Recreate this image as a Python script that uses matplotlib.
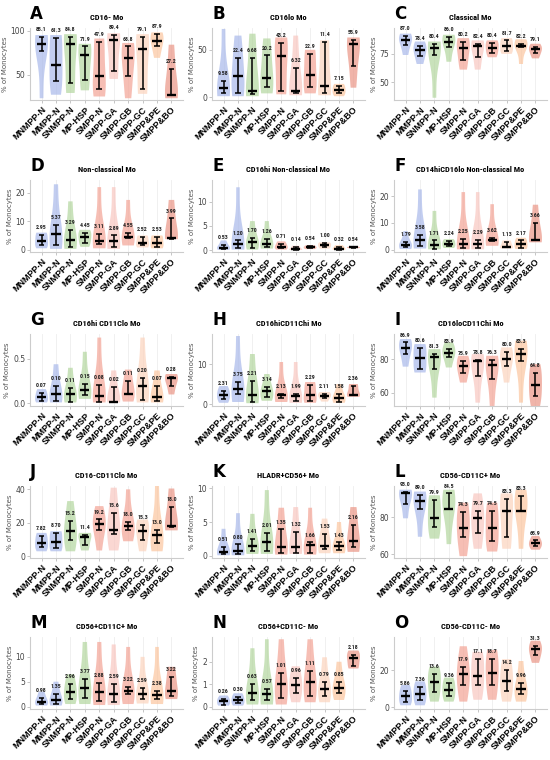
import matplotlib
matplotlib.use("Agg")
import matplotlib.pyplot as plt
import numpy as np

groups = ["MNMPP-N", "MMPP-N", "SNMPP-N", "MP-HSP", "SMPP-N",
          "SMPP-GA", "SMPP-GB", "SMPP-GC", "SMPP&PE", "SMPP&BO"]
colors = ["#a9b9ea", "#a9b9ea", "#b3d69e", "#b3d69e", "#f3a395",
          "#f8c6c0", "#f3a395", "#fcd3bd", "#fbc59e", "#ea9585"]

# ---------------- values ----------------
# med = median (label), lo/hi = error bar ends, vmin/vmax = violin extent
A_title = "CD16- Mo"
A_med = [85.1, 61.3, 84.8, 71.9, 47.9, 89.4, 68.8, 79.1, 87.9, 27.2]
A_lo = [77, 43, 40, 44, 34, 54, 48, 34, 82, 27]
A_hi = [93, 92, 93, 82, 87, 95, 82, 93, 96, 56]
A_min = [23, 27, 29, 32, 25, 45, 23, 28, 69, 23]
A_max = [95, 95, 96, 85, 91, 97, 86, 96, 98, 84]

B_title = "CD16lo Mo"
B_med = [9.58, 22.4, 6.68, 20.2, 43.2, 6.32, 22.9, 11.4, 7.15, 55.9]
B_lo = [4, 4, 3, 11, 6, 4, 11, 4, 4, 33]
B_hi = [17, 41, 41, 44, 57, 31, 46, 58, 11.5, 60]
B_min = [1, 1, 1, 4, 3, 2, 4, 2, 1, 10]
B_max = [72, 65, 67, 62, 63, 65, 50, 60, 14, 63]

C_title = "Classical Mo"
C_med = [87.0, 78.4, 80.4, 86.0, 80.2, 82.4, 80.4, 81.7, 82.2, 79.1]
C_lo = [83, 73.5, 74, 81, 70, 72, 76, 78, 81, 75.5]
C_hi = [91, 82, 84, 90, 86, 84, 85, 87, 84, 81]
C_min = [74, 66, 36, 68, 61, 61, 72, 75, 66, 71]
C_max = [93, 86, 86, 92, 89, 87, 87, 89, 88, 84]

D_title = "Non-classical Mo"
D_med = [2.95, 5.37, 3.29, 4.45, 3.11, 2.89, 4.55, 2.52, 2.53, 3.99]
D_lo = [1.5, 1.5, 1.0, 2.5, 2.0, 1.0, 4.0, 1.5, 1.0, 3.9]
D_hi = [5.3, 8.6, 7.0, 6.0, 5.5, 5.0, 6.0, 4.5, 4.5, 11.0]
D_min = [0.5, 0.3, 0.3, 1.0, 0.5, 0.3, 1.5, 0.8, 0.5, 3.7]
D_max = [6.0, 23.0, 17.0, 7.0, 22.0, 22.0, 17.5, 5.0, 5.0, 17.5]

E_title = "CD16hi Non-classical Mo"
E_med = [0.53, 1.20, 1.70, 1.26, 0.71, 0.14, 0.54, 1.00, 0.32, 0.54]
E_lo = [0.2, 0.5, 0.5, 0.7, 0.4, 0.05, 0.4, 0.6, 0.1, 0.45]
E_hi = [1.1, 2.0, 2.6, 2.3, 1.3, 0.6, 0.8, 1.4, 0.7, 0.65]
E_min = [0.05, 0.1, 0.1, 0.3, 0.1, 0.02, 0.2, 0.3, 0.05, 0.4]
E_max = [2.0, 13.0, 6.0, 6.0, 1.8, 0.9, 1.0, 1.6, 1.0, 0.7]

F_title = "CD14hiCD16lo Non-classical Mo"
F_med = [1.79, 3.58, 1.71, 2.24, 2.25, 2.29, 3.62, 1.13, 2.17, 3.66]
F_lo = [1.0, 1.5, 0.5, 1.3, 0.8, 0.8, 3.2, 1.0, 0.8, 3.6]
F_hi = [3.0, 5.5, 3.5, 3.3, 4.0, 3.8, 4.5, 2.8, 3.5, 10.0]
F_min = [0.3, 0.5, 0.2, 0.7, 0.2, 0.2, 1.5, 0.5, 0.3, 2.8]
F_max = [7.0, 22.5, 14.5, 4.0, 21.5, 21.5, 17.0, 3.5, 4.5, 16.8]

G_title = "CD16hi CD11Clo Mo"
G_med = [0.07, 0.10, 0.11, 0.15, 0.08, 0.02, 0.11, 0.20, 0.07, 0.28]
G_lo = [0.03, 0.03, 0.02, 0.09, 0.02, 0.02, 0.10, 0.04, 0.03, 0.20]
G_hi = [0.12, 0.20, 0.17, 0.22, 0.21, 0.18, 0.25, 0.29, 0.20, 0.30]
G_min = [0.01, 0.01, 0.01, 0.05, 0.01, 0.01, 0.02, 0.01, 0.01, 0.10]
G_max = [0.16, 0.44, 0.40, 0.58, 0.74, 0.37, 0.38, 0.74, 0.37, 0.33]

H_title = "CD16hiCD11Chi Mo"
H_med = [2.31, 3.75, 2.21, 3.14, 2.13, 1.99, 2.29, 2.11, 1.58, 2.36]
H_lo = [1.3, 2.5, 0.5, 1.8, 1.5, 0.8, 0.8, 1.5, 0.6, 2.3]
H_hi = [3.3, 5.5, 5.8, 4.2, 2.6, 2.5, 4.8, 2.5, 2.5, 4.5]
H_min = [0.3, 0.5, 0.2, 0.8, 0.5, 0.3, 0.3, 0.6, 0.3, 1.8]
H_max = [4.5, 17.0, 12.5, 7.5, 10.5, 10.5, 5.5, 3.0, 5.0, 5.0]

I_title = "CD16loCD11Chi Mo"
I_med = [86.9, 80.6, 81.3, 83.9, 75.9, 78.8, 76.3, 80.0, 83.3, 64.8]
I_lo = [83, 74, 74, 81.5, 72, 70, 68, 76, 79, 58]
I_hi = [90, 86.5, 83, 86, 79, 79.5, 79.5, 84.5, 86, 72]
I_min = [75.5, 72, 57, 75, 66, 54, 52, 66, 54, 52]
I_max = [92, 89, 86, 90, 82, 83, 82, 87, 91, 77]

J_title = "CD16-CD11Clo Mo"
J_med = [7.82, 8.70, 15.2, 11.4, 19.2, 15.6, 18.0, 15.3, 13.0, 18.0]
J_lo = [5.5, 5, 9.5, 6.5, 15.5, 13.5, 16, 9.5, 8, 17.5]
J_hi = [12, 14, 21, 13, 22, 26, 20.5, 19, 16, 29.5]
J_min = [3, 3, 3, 3.5, 3.5, 3.5, 9, 3, 3, 15.5]
J_max = [14, 15, 33, 14, 30, 41, 40, 22, 42, 40.5]

K_title = "HLADR+CD56+ Mo"
K_med = [0.51, 0.80, 1.41, 2.01, 1.35, 1.32, 1.66, 1.53, 1.43, 2.16]
K_lo = [0.3, 0.3, 0.7, 0.8, 0.5, 0.5, 0.5, 1.0, 0.9, 1.3]
K_hi = [1.3, 1.7, 2.5, 3.4, 3.9, 3.5, 2.0, 3.2, 2.0, 4.6]
K_min = [0.1, 0.1, 0.3, 0.3, 0.2, 0.3, 0.2, 0.4, 0.4, 0.6]
K_max = [4.0, 6.3, 6.2, 9.7, 7.1, 7.2, 7.1, 5.5, 5.0, 7.2]

L_title = "CD56-CD11C+ Mo"
L_med = [93.0, 89.0, 79.9, 84.5, 74.3, 79.7, 74.5, 83.3, 83.3, 65.9]
L_lo = [87.5, 84.5, 75, 84.5, 69.5, 71.5, 67, 69.5, 83.3, 64.5]
L_hi = [93.7, 92, 89.5, 93, 83, 83.5, 83.5, 90, 91.5, 67.5]
L_min = [79.5, 69.5, 68.5, 65.5, 59, 63, 61.5, 63, 63, 62.5]
L_max = [95, 94, 92, 95, 88, 93, 88, 93, 95, 70]

M_title = "CD56+CD11C+ Mo"
M_med = [0.98, 1.35, 2.96, 3.77, 2.88, 2.59, 3.22, 2.59, 2.38, 3.22]
M_lo = [0.5, 0.6, 1.5, 1.8, 1.2, 1.0, 2.5, 1.5, 1.5, 2.2]
M_hi = [1.8, 2.5, 4.5, 5.5, 4.8, 4.5, 4.0, 3.8, 3.2, 6.0]
M_min = [0.2, 0.2, 0.5, 0.5, 0.3, 0.3, 0.5, 0.6, 0.5, 1.5]
M_max = [3.0, 5.0, 6.5, 13.0, 13.0, 12.5, 12.0, 10.0, 12.0, 8.0]

N_title = "CD56+CD11C- Mo"
N_med = [0.26, 0.30, 0.63, 0.57, 1.01, 0.96, 1.11, 0.79, 0.85, 2.18]
N_lo = [0.1, 0.15, 0.3, 0.3, 0.4, 0.6, 0.5, 0.5, 0.6, 1.8]
N_hi = [0.35, 0.45, 1.0, 0.8, 1.5, 1.3, 1.6, 1.1, 1.1, 2.3]
N_min = [0.05, 0.05, 0.1, 0.1, 0.1, 0.2, 0.2, 0.2, 0.3, 1.7]
N_max = [0.5, 0.6, 2.6, 3.0, 3.0, 1.8, 3.0, 2.2, 2.0, 2.5]

O_title = "CD56-CD11C- Mo"
O_med = [5.86, 7.36, 13.6, 9.36, 17.9, 17.1, 18.7, 14.2, 9.96, 31.3]
O_lo = [3, 4, 8, 6, 12, 12, 12, 9, 7, 28]
O_hi = [9, 11, 18, 13, 22, 26, 26, 20, 13, 33]
O_min = [1, 1, 3, 3, 3, 4, 4, 3, 3, 24]
O_max = [12, 14, 22, 16, 33, 30, 31, 26, 25, 36]

letters = list("ABCDEFGHIJKLMNO")
ylims = [(21, 103), (-3, 73), (34, 98), (-0.8, 24.5), (-0.4, 14.5),
         (-0.8, 26), (-0.03, 0.78), (-0.5, 17.5), (52, 95), (-1, 42),
         (-0.3, 10.3), (58, 97), (-0.5, 14), (-0.1, 3.1), (-1, 38)]
yticks = [[50, 100], [0, 50], [50, 75], [0, 10, 20], [0, 5, 10],
          [0, 10, 20], [0.0, 0.5], [0, 10], [60, 80], [0, 20, 40],
          [0, 5, 10], [60, 80], [0, 5, 10], [0, 1, 2], [0, 20]]

panels = [
    (A_title, A_med, A_lo, A_hi, A_min, A_max),
    (B_title, B_med, B_lo, B_hi, B_min, B_max),
    (C_title, C_med, C_lo, C_hi, C_min, C_max),
    (D_title, D_med, D_lo, D_hi, D_min, D_max),
    (E_title, E_med, E_lo, E_hi, E_min, E_max),
    (F_title, F_med, F_lo, F_hi, F_min, F_max),
    (G_title, G_med, G_lo, G_hi, G_min, G_max),
    (H_title, H_med, H_lo, H_hi, H_min, H_max),
    (I_title, I_med, I_lo, I_hi, I_min, I_max),
    (J_title, J_med, J_lo, J_hi, J_min, J_max),
    (K_title, K_med, K_lo, K_hi, K_min, K_max),
    (L_title, L_med, L_lo, L_hi, L_min, L_max),
    (M_title, M_med, M_lo, M_hi, M_min, M_max),
    (N_title, N_med, N_lo, N_hi, N_min, N_max),
    (O_title, O_med, O_lo, O_hi, O_min, O_max),
]


def fmt(v):
    return f"{v:.1f}" if v >= 10 else f"{v:.2f}"


W, H = 550, 760
fig = plt.figure(figsize=(W / 100, H / 100), dpi=100)
fig.patch.set_facecolor("white")

narrow = ["Liberation Sans Narrow", "Roboto Condensed", "DejaVu Sans"]
col_left = [30, 212, 394]
ax_w = 153
row_top = [28, 180, 334, 486, 637]
ax_h = 72

x = np.arange(len(groups))
for i, (title, med, lo, hi, vmin, vmax) in enumerate(panels):
    r, c = divmod(i, 3)
    left = col_left[c]
    top = row_top[r]
    ax = fig.add_axes([left / W, 1 - (top + ax_h) / H, ax_w / W, ax_h / H])
    data = [[vmin[k], lo[k], med[k], hi[k], vmax[k]] for k in range(len(groups))]
    vp = ax.violinplot(data, positions=x, widths=0.9, showextrema=False,
                       showmeans=False, showmedians=False, bw_method=0.75)
    for body, col in zip(vp["bodies"], colors):
        body.set_facecolor(col)
        body.set_edgecolor("none")
        body.set_alpha(0.7)
    ax.vlines(x, lo, hi, color="black", lw=1.1, zorder=3)
    ax.hlines(lo, x - 0.2, x + 0.2, color="black", lw=1.1, zorder=3)
    ax.hlines(hi, x - 0.2, x + 0.2, color="black", lw=1.1, zorder=3)
    ax.hlines(med, x - 0.32, x + 0.32, color="black", lw=1.7, zorder=4)
    for k in range(len(groups)):
        ax.annotate(fmt(med[k]), (x[k], hi[k]), xytext=(0, 3.5),
                    textcoords="offset points", ha="center", va="bottom",
                    fontsize=4.2, fontweight="bold", color="#222222",
                    family=narrow, zorder=5)
    ax.set_xlim(-0.8, len(groups) - 0.2)
    ax.set_ylim(*ylims[i])
    ax.set_yticks(yticks[i])
    ax.set_xticks(x)
    ax.set_xticklabels(groups, rotation=45, ha="right", rotation_mode="anchor",
                       fontsize=6.5, fontweight="bold", family="Liberation Sans")
    ax.tick_params(axis="y", labelsize=5.5, labelcolor="#444444", length=2,
                   width=0.6, color="#bbbbbb", pad=1.5)
    ax.tick_params(axis="x", length=2, width=0.6, color="#bbbbbb", pad=1.5)
    ax.grid(axis="x", color="#eeeeee", lw=0.6)
    ax.set_axisbelow(True)
    for s in ["top", "right"]:
        ax.spines[s].set_visible(False)
    for s in ["left", "bottom"]:
        ax.spines[s].set_color("#cccccc")
        ax.spines[s].set_linewidth(0.8)
    ax.set_ylabel("% of Monocytes", fontsize=5, color="#555555", labelpad=2)
    ax.set_title(title, fontsize=6, fontweight="bold", pad=6, family=narrow)
    fig.text(left / W, 1 - (top - 14) / H, letters[i], fontsize=12,
             fontweight="bold", va="center", ha="left")

fig.savefig("out.png", dpi=100, facecolor="white")
